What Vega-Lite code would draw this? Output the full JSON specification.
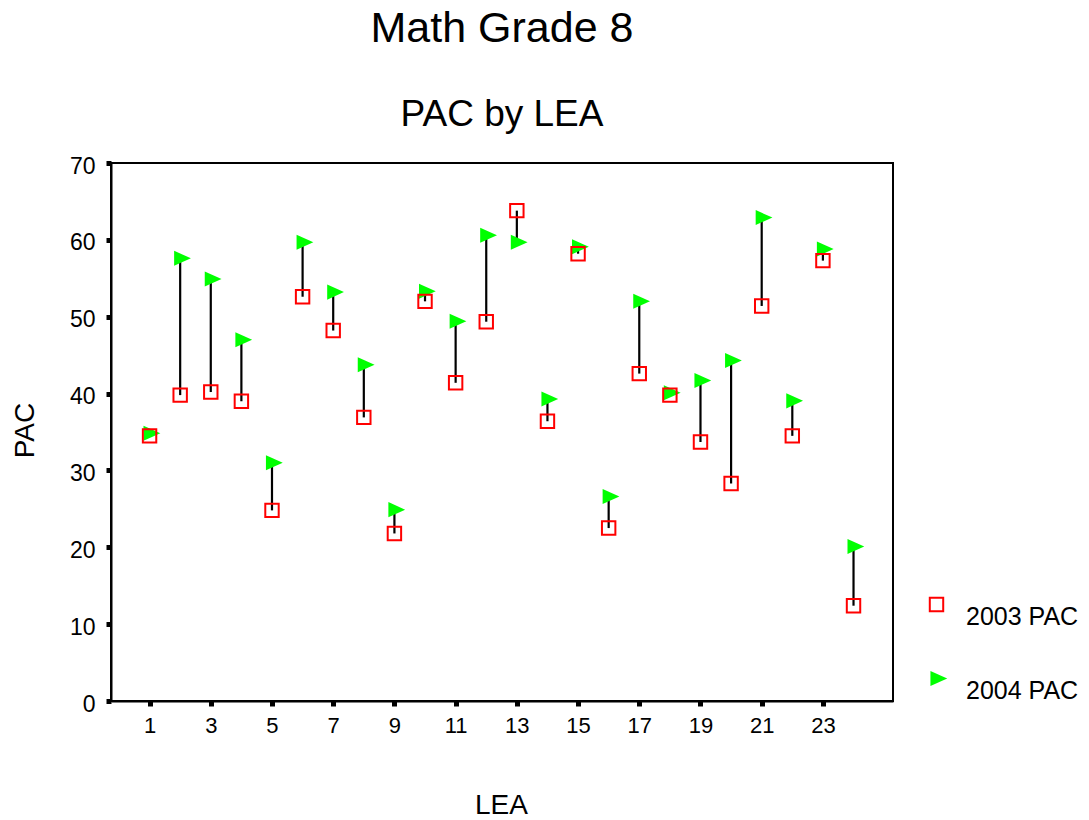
{
  "$schema": "https://vega.github.io/schema/vega-lite/v6.json",
  "autosize": "none",
  "width": 782,
  "height": 538,
  "padding": {"left": 111, "top": 163, "right": 196, "bottom": 119},
  "background": "white",
  "title": {
    "text": "Math Grade 8",
    "subtitle": "PAC by LEA",
    "anchor": "middle",
    "font": "Liberation Sans",
    "fontSize": 43,
    "fontWeight": "normal",
    "color": "black",
    "subtitleFont": "Liberation Sans",
    "subtitleFontSize": 37,
    "subtitleColor": "black",
    "subtitlePadding": 46,
    "offset": 22
  },
  "config": {
    "view": {"stroke": "black", "strokeWidth": 2},
    "font": "Liberation Sans"
  },
  "data": {
    "values": [
      {"LEA": 1, "2003 PAC": 34.5, "2004 PAC": 34.85},
      {"LEA": 2, "2003 PAC": 39.8, "2004 PAC": 57.6},
      {"LEA": 3, "2003 PAC": 40.2, "2004 PAC": 54.9},
      {"LEA": 4, "2003 PAC": 39.0, "2004 PAC": 47.0},
      {"LEA": 5, "2003 PAC": 24.8, "2004 PAC": 31.0},
      {"LEA": 6, "2003 PAC": 52.6, "2004 PAC": 59.7},
      {"LEA": 7, "2003 PAC": 48.2, "2004 PAC": 53.2},
      {"LEA": 8, "2003 PAC": 36.9, "2004 PAC": 43.75},
      {"LEA": 9, "2003 PAC": 21.8, "2004 PAC": 24.9},
      {"LEA": 10, "2003 PAC": 52.0, "2004 PAC": 53.3},
      {"LEA": 11, "2003 PAC": 41.4, "2004 PAC": 49.4},
      {"LEA": 12, "2003 PAC": 49.35, "2004 PAC": 60.6},
      {"LEA": 13, "2003 PAC": 63.8, "2004 PAC": 59.7},
      {"LEA": 14, "2003 PAC": 36.4, "2004 PAC": 39.3},
      {"LEA": 15, "2003 PAC": 58.2, "2004 PAC": 59.1},
      {"LEA": 16, "2003 PAC": 22.5, "2004 PAC": 26.6},
      {"LEA": 17, "2003 PAC": 42.6, "2004 PAC": 52.0},
      {"LEA": 18, "2003 PAC": 39.8, "2004 PAC": 40.1},
      {"LEA": 19, "2003 PAC": 33.7, "2004 PAC": 41.7},
      {"LEA": 20, "2003 PAC": 28.3, "2004 PAC": 44.3},
      {"LEA": 21, "2003 PAC": 51.4, "2004 PAC": 62.9},
      {"LEA": 22, "2003 PAC": 34.5, "2004 PAC": 39.05},
      {"LEA": 23, "2003 PAC": 57.3, "2004 PAC": 58.8},
      {"LEA": 24, "2003 PAC": 12.4, "2004 PAC": 20.1}
    ]
  },
  "layer": [
    {
      "mark": {"type": "rule", "color": "black", "strokeWidth": 2.2},
      "encoding": {
        "x": {
          "field": "LEA", "type": "quantitative",
          "scale": {"domain": [-0.26, 25.29], "nice": false, "zero": false},
          "axis": {
            "title": "LEA",
            "values": [1, 3, 5, 7, 9, 11, 13, 15, 17, 19, 21, 23],
            "grid": false,
            "domainColor": "black", "domainWidth": 2,
            "tickColor": "black", "tickWidth": 5, "tickSize": 5,
            "labelFont": "Liberation Sans", "labelFontSize": 22, "labelColor": "black",
            "labelPadding": 9,
            "titleFont": "Liberation Sans", "titleFontSize": 28, "titleFontWeight": "normal", "titleColor": "black",
            "titleX": 390, "titleY": 112, "titleBaseline": "alphabetic", "titleAlign": "center"
          }
        },
        "y": {
          "field": "2003 PAC", "type": "quantitative",
          "scale": {"domain": [0, 70], "nice": false},
          "axis": {
            "title": "PAC",
            "values": [0, 10, 20, 30, 40, 50, 60, 70],
            "grid": false,
            "domainColor": "black", "domainWidth": 2,
            "tickColor": "black", "tickWidth": 5, "tickSize": 5,
            "labelFont": "Liberation Sans", "labelFontSize": 23, "labelColor": "black",
            "labelPadding": 11, "labelOffset": 3,
            "titleFont": "Liberation Sans", "titleFontSize": 28, "titleFontWeight": "normal", "titleColor": "black",
            "titleX": -78, "titleY": 267, "titleBaseline": "alphabetic", "titleAlign": "center", "titleAngle": -90
          }
        },
        "y2": {"field": "2004 PAC"}
      }
    },
    {
      "transform": [{"fold": ["2003 PAC", "2004 PAC"], "as": ["series", "value"]}],
      "mark": {"type": "point", "size": 180, "strokeWidth": 2, "opacity": 1},
      "encoding": {
        "x": {"field": "LEA", "type": "quantitative"},
        "y": {"field": "value", "type": "quantitative"},
        "order": {"field": "series", "sort": "descending"},
        "shape": {
          "field": "series", "type": "nominal",
          "scale": {"domain": ["2003 PAC", "2004 PAC"], "range": ["square", "M -0.9 -1.12 L 1.6 0 L -0.9 1.12 Z"]},
          "legend": {
            "title": null,
            "orient": "none",
            "legendX": 813,
            "legendY": 429,
            "padding": 0,
            "symbolSize": 180,
            "symbolStrokeWidth": 2,
            "labelFont": "Liberation Sans",
            "labelFontSize": 25,
            "labelColor": "black",
            "labelBaseline": "top",
            "labelOffset": 17,
            "rowPadding": 36
          }
        },
        "fill": {
          "field": "series", "type": "nominal",
          "scale": {"domain": ["2003 PAC", "2004 PAC"], "range": ["transparent", "#00ff00"]},
          "legend": null
        },
        "stroke": {
          "field": "series", "type": "nominal",
          "scale": {"domain": ["2003 PAC", "2004 PAC"], "range": ["#ff0000", "transparent"]},
          "legend": null
        }
      }
    }
  ]
}
